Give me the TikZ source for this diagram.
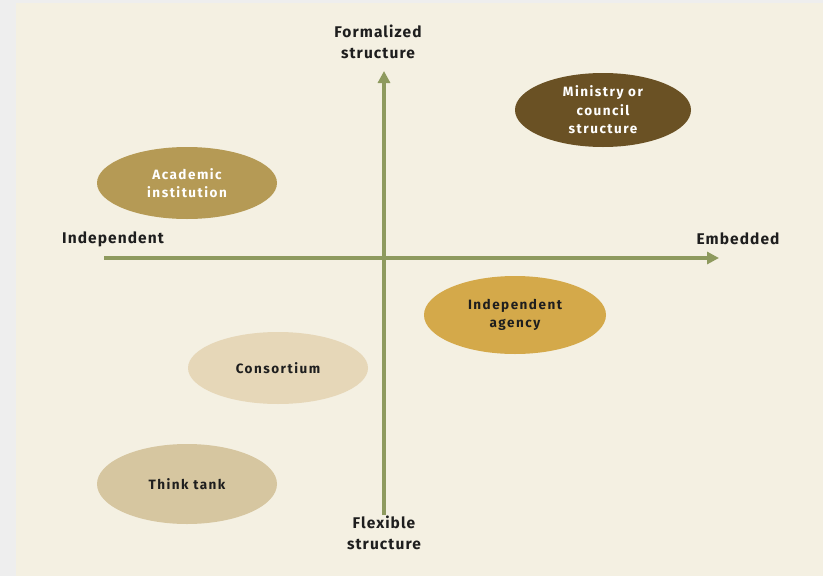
\documentclass[tikz,border=0pt]{standalone}
\usepackage{fontspec}
\setmainfont{Fira Sans}[UprightFont=* SemiBold, BoldFont=* Bold]
\usepackage{tikz}
\usetikzlibrary{arrows.meta}
\usetikzlibrary{positioning,shapes.geometric}
\definecolor{rahmen}{HTML}{EEEEEE}
\definecolor{papier}{HTML}{F4F0E2}
\definecolor{achse}{HTML}{8E9A5E}
\definecolor{ministerium}{HTML}{6A5124}
\definecolor{akademie}{HTML}{B59A55}
\definecolor{agentur}{HTML}{D4A94A}
\definecolor{konsortium}{HTML}{E6D7B8}
\definecolor{denkfabrik}{HTML}{D6C6A0}
\definecolor{schrift}{HTML}{1E1E1E}

\begin{document}
\begin{tikzpicture}[x=1pt,y=-1pt]
		\fill[rahmen] (0,0) rectangle (823,576);
		\fill[papier] (16,3) rectangle (823,576);
		\useasboundingbox (0,0) rectangle (823,576);

		\begin{scope}[every node/.style={align=center,text=schrift,font=\fontsize{15.5}{21}\selectfont\bfseries\addfontfeature{LetterSpace=7}}]
			\node (oben) at (378,42) {Formalized\\structure};
			\node (unten) at (384,533) {Flexible\\structure};
			\node (links) at (113,239) {Independent};
			\node (rechts) at (738,239) {Embedded};
		\end{scope}

		\coordinate (ostart) at (384,515);
		\coordinate (oende) at (384,71);
		\coordinate (lstart) at (104,258);
		\coordinate (lende) at (719,258);

		\begin{scope}[every node/.style={ellipse,minimum width=180pt,minimum height=74pt,inner sep=0pt,align=center,text=schrift,font=\fontsize{13.5}{18.5}\selectfont\bfseries\addfontfeature{LetterSpace=11}}]
			\node[fill=ministerium,text=white,minimum width=176pt] (ministry) at (603,110) {Ministry or\\council\\structure};
			\node[fill=akademie,text=white,minimum height=72pt] (academic) at (187,183) {Academic\\institution};
			\node[fill=agentur,minimum width=182pt,minimum height=78pt] (agency) at (515,315) {Independent\\agency};
			\node[fill=konsortium,minimum height=72pt] (consortium) at (278,368) {Consortium};
			\node[fill=denkfabrik,minimum height=80pt] (thinktank) at (187,484) {Think tank};
		\end{scope}

		\begin{scope}[>={Triangle[length=12pt,width=12pt]},line width=4pt]
			\path (ostart) edge[->,achse] (oende);
			\path (lstart) edge[->,achse] (lende);
		\end{scope}
	\end{tikzpicture}
\end{document}
